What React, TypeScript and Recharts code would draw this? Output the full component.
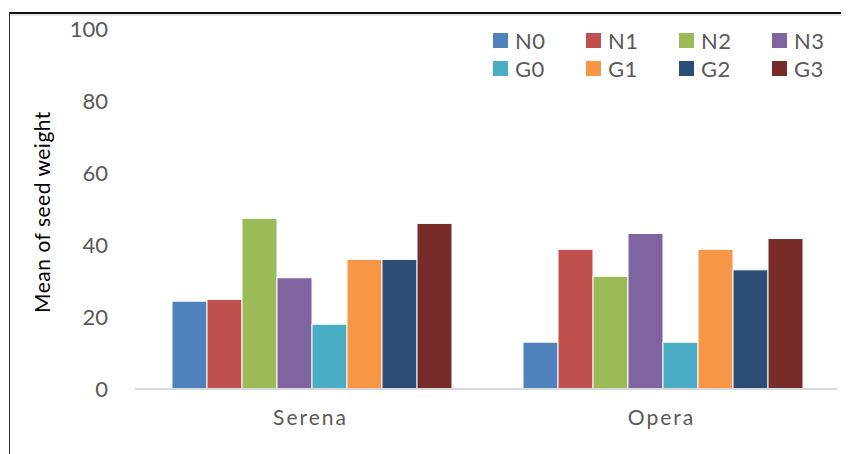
import React from "react"
import { Bar, BarChart, XAxis, YAxis } from "recharts"

const categories = ["Serena", "Opera"]
const seriesNames = ["N0", "N1", "N2", "N3", "G0", "G1", "G2", "G3"]
const seriesColors = ["#4f81bd", "#c0504d", "#9bbb59", "#8064a2", "#4bacc6", "#f79646", "#2c4d75", "#772c2a"]

const n0 = [24.4, 13.0]
const n1 = [24.9, 38.8]
const n2 = [47.4, 31.3]
const n3 = [30.9, 43.2]
const g0 = [18.0, 13.0]
const g1 = [36.0, 38.8]
const g2 = [36.0, 33.1]
const g3 = [46.0, 41.8]
const yTicks = [0, 20, 40, 60, 80, 100]

const seriesValues = [n0, n1, n2, n3, g0, g1, g2, g3]

const data = categories.map((name, i) => {
  const row: Record<string, string | number> = { name }
  seriesNames.forEach((s, j) => {
    row[s] = seriesValues[j][i]
  })
  return row
})

const font = "Lato, 'Open Sans', sans-serif"

// legend drawn as plain html so it does not eat into the plot area
function LegendBox() {
  return (
    <div
      style={{
        position: "absolute",
        left: 485,
        top: 18,
        display: "grid",
        gridTemplateColumns: "repeat(4, 93px)",
        fontFamily: font,
      }}
    >
      {seriesNames.map((s, i) => (
        <div key={s} style={{ display: "flex", alignItems: "center", height: 28 }}>
          <span style={{ width: 15, height: 15, background: seriesColors[i], marginRight: 7 }} />
          <span style={{ fontSize: 22, color: "#595959", letterSpacing: 0.5 }}>{s}</span>
        </div>
      ))}
    </div>
  )
}

export default function App() {
  return (
    <div style={{ position: "relative", width: 841, height: 446 }}>
      <div
        style={{
          position: "absolute",
          left: 1,
          top: 4,
          right: 0,
          bottom: -10,
          borderTop: "2px solid #111",
          borderLeft: "1px solid #333",
          boxShadow: "inset 0 2px 0 #e6e6e6",
        }}
      />
      <BarChart
        width={841}
        height={446}
        data={data}
        margin={{ top: 21, right: 12, bottom: 15, left: 0 }}
        barCategoryGap={37}
        barGap={0}
        style={{ position: "absolute", left: 0, top: 0 }}
      >
        <XAxis
          dataKey="name"
          stroke="#d9d9d9"
          strokeWidth={2}
          tickLine={false}
          tickSize={0}
          tickMargin={21}
          height={50}
          tick={{ fill: "#595959", fontSize: 21, fontFamily: font, letterSpacing: 2 }}
        />
        <YAxis
          width={127}
          domain={[0, 100]}
          ticks={yTicks}
          axisLine={false}
          tickLine={false}
          tickSize={0}
          tickMargin={27}
          tick={{ fill: "#595959", fontSize: 22, fontFamily: font }}
          label={{
            content: () => (
              <text
                x={33}
                y={204}
                transform="rotate(-90 33 204)"
                textAnchor="middle"
                dominantBaseline="central"
                fill="#000"
                fontSize={21}
                fontFamily={font}
                letterSpacing={0.5}
              >
                Mean of seed weight
              </text>
            ),
          }}
        />
        {seriesNames.map((s, i) => (
          <Bar key={s} dataKey={s} fill={seriesColors[i]} stroke="#fff" strokeWidth={1} isAnimationActive={false} />
        ))}
      </BarChart>
      <LegendBox />
    </div>
  )
}
